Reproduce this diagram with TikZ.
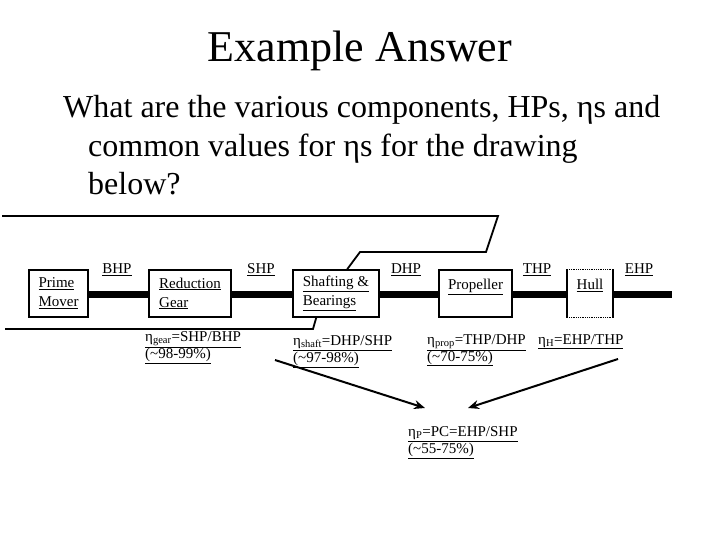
\documentclass[tikz,border=0pt]{standalone}
\usepackage{fontspec}
\setmainfont{Liberation Serif}
\usetikzlibrary{calc,arrows.meta}
\newcommand\myul[1]{\underline{#1}}
\begin{document}
\begin{tikzpicture}[x=1pt,y=-1pt,
  compbox/.style={draw,line width=1.6pt,minimum height=47pt,inner sep=0pt,align=left,font=\fontsize{15}{19}\selectfont},
  shaft/.style={line width=7pt},
  hplabel/.style={font=\fontsize{15}{17}\selectfont,inner sep=0pt},
  eqlabel/.style={font=\fontsize{15}{17}\selectfont,inner sep=0pt,align=left,anchor=north west},
  qline/.style={font=\fontsize{32}{40}\selectfont,anchor=base west,inner sep=0pt},
  bracket/.style={line width=1.8pt},
  flow/.style={line width=2pt,-{Stealth[length=11pt,width=9pt]}}]
\useasboundingbox (0,0) rectangle (720,540);
% title and question
\node[font=\fontsize{44}{50}\selectfont,anchor=base,inner sep=0pt] (title) at (360,62) {Example Answer};
\node[qline] (q1) at (63,118) {What are the various components, HPs, ηs and};
\node[qline] (q2) at (88,157) {common values for ηs for the drawing};
\node[qline] (q3) at (88,195) {below?};
% components
\node[compbox,minimum width=59pt] (pm) at (58.5,293.5) {\myul{Prime}\\\myul{Mover}};
\node[compbox,minimum width=82pt] (rg) at (190,293.5) {\myul{Reduction}\\\myul{Gear}};
\node[compbox,minimum width=86pt] (sb) at (336,293.5) {\myul{Shafting \&}\\\myul{Bearings}};
\node[compbox,minimum width=73pt] (pr) at (475.5,293.5) {\myul{Propeller}\\\phantom{X}};
\node[compbox,draw=none,minimum width=44pt] (hull) at (590,293.5) {\myul{Hull}\\\phantom{X}};
\draw[densely dotted,line width=0.8pt] (hull.north west) -- (hull.north east);
\draw[densely dotted,line width=0.8pt] (hull.south west) -- (hull.south east);
\draw[line width=2pt] (hull.north west) -- (hull.south west);
\draw[line width=2pt] (hull.north east) -- (hull.south east);
\coordinate (shaftend) at (672,294);
% shafts
\draw[shaft] ($(pm.east)+(0,0.5)$) -- ($(rg.west)+(0,0.5)$);
\draw[shaft] ($(rg.east)+(0,0.5)$) -- ($(sb.west)+(0,0.5)$);
\draw[shaft] ($(sb.east)+(0,0.5)$) -- ($(pr.west)+(0,0.5)$);
\draw[shaft] ($(pr.east)+(0,0.5)$) -- ($(hull.west)+(0,0.5)$);
\draw[shaft] ($(hull.east)+(0,0.5)$) -- (shaftend);
% HP labels
\node[hplabel] (bhp) at (117,270) {\myul{BHP}};
\node[hplabel] (shp) at (261,270) {\myul{SHP}};
\node[hplabel] (dhp) at (406,270) {\myul{DHP}};
\node[hplabel] (thp) at (537,270) {\myul{THP}};
\node[hplabel] (ehp) at (639,270) {\myul{EHP}};
% brackets
\coordinate (t0) at (2,216);
\coordinate (t1) at (498,216);
\coordinate (t2) at (486,252);
\coordinate (t3) at (360,252);
\draw[bracket] (t0) -- (t1) -- (t2) -- (t3) -- ($(sb.north west)+(55,0)$);
\coordinate (b0) at (5,329);
\coordinate (b1) at (313,329);
\draw[bracket] (b0) -- (b1) -- ($(sb.south west)+(24,0)$);
% efficiencies
\node[eqlabel] (eg) at (145,331) {\myul{η\textsubscript{gear}=SHP/BHP}\\\myul{(\textasciitilde 98-99\%)}};
\node[eqlabel] (es) at (293,335) {\myul{η\textsubscript{shaft}=DHP/SHP}\\\myul{(\textasciitilde 97-98\%)}};
\node[eqlabel] (ep) at (427,334) {\myul{η\textsubscript{prop}=THP/DHP}\\\myul{(\textasciitilde 70-75\%)}};
\node[eqlabel] (eh) at (538,334) {\myul{η\textsubscript{H}=EHP/THP}};
\node[eqlabel] (ept) at (408,426) {\myul{η\textsubscript{P}=PC=EHP/SHP}\\\myul{(\textasciitilde 55-75\%)}};
% arrows
\coordinate (a1s) at (275,360);
\coordinate (a1e) at (425,408);
\coordinate (a2s) at (618,359);
\coordinate (a2e) at (468,408);
\draw[flow] (a1s) -- (a1e);
\draw[flow] (a2s) -- (a2e);
\end{tikzpicture}
\end{document}
